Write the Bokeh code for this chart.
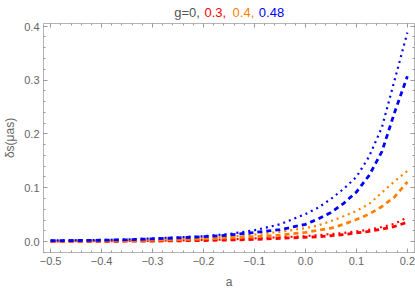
from bokeh.plotting import figure
from bokeh.models import Range1d, LinearAxis, CustomJSTickFormatter, ColumnDataSource
from bokeh.layouts import column
from bokeh.core.properties import value
from bokeh.embed import file_html
from bokeh.resources import INLINE

# ---- data ----
a_vals = [-0.5, -0.45, -0.4, -0.35, -0.3, -0.25, -0.2, -0.15, -0.1, -0.05,
          0.0, 0.025, 0.05, 0.075, 0.1, 0.125, 0.15, 0.175, 0.2]

red_dashed = [0.0003, 0.0004, 0.0005, 0.0007, 0.001, 0.0014, 0.002, 0.003, 0.004, 0.006,
              0.008, 0.009, 0.011, 0.013, 0.016, 0.019, 0.023, 0.028, 0.036]
red_dotted = [0.0005, 0.0006, 0.0008, 0.001, 0.0014, 0.002, 0.003, 0.004, 0.006, 0.008,
              0.010, 0.012, 0.014, 0.016, 0.019, 0.022, 0.027, 0.033, 0.045]
orange_dashed = [0.0008, 0.001, 0.0013, 0.0018, 0.0025, 0.0035, 0.005, 0.007, 0.009, 0.012,
                 0.017, 0.021, 0.025, 0.032, 0.041, 0.051, 0.065, 0.083, 0.111]
orange_dotted = [0.001, 0.0013, 0.0018, 0.0025, 0.0035, 0.005, 0.007, 0.009, 0.013, 0.018,
                 0.025, 0.030, 0.038, 0.047, 0.057, 0.070, 0.091, 0.112, 0.131]
blue_dashed = [0.0015, 0.002, 0.0025, 0.0035, 0.005, 0.007, 0.009, 0.012, 0.017, 0.022,
               0.032, 0.042, 0.054, 0.071, 0.092, 0.123, 0.167, 0.240, 0.307]
blue_dotted = [0.002, 0.0025, 0.003, 0.004, 0.006, 0.008, 0.010, 0.014, 0.021, 0.032,
               0.051, 0.063, 0.079, 0.098, 0.120, 0.158, 0.212, 0.300, 0.388]

title_parts = ["g=0,", "0.3,", "0.4,", "0.48"]
title_colors = ["#555555", "#ff0000", "#ff8000", "#0000ff"]
title_x = [-0.2574, -0.1981, -0.1430, -0.0915]

x_label = "a"
y_label = "δs(μas)"

FONT = "Liberation Sans"
FRAME = "#b4b4b4"
TICK = "#999999"
TXT = "#666666"

TITLE_H = 22
xr = Range1d(-0.514, 0.214)

# ---- title strip (shares the x range so the pieces line up with the frame) ----
tf = figure(width=415, height=TITLE_H, output_backend="svg", toolbar_location=None,
            x_range=xr, y_range=Range1d(0, TITLE_H),
            x_axis_location=None, y_axis_location=None,
            min_border_left=41, min_border_right=1, min_border_top=0, min_border_bottom=0)
tf.grid.visible = False
tf.outline_line_color = None
tsrc = ColumnDataSource(dict(x=title_x, y=[TITLE_H - 12] * len(title_x),
                             text=title_parts, color=title_colors))
tf.text(x="x", y="y", text="text", text_color="color", source=tsrc,
        text_font=value(FONT), text_font_size="13px",
        text_baseline="alphabetic", text_align="left")

# ---- main plot ----
p = figure(width=415, height=291 - TITLE_H, output_backend="svg", toolbar_location=None,
           x_range=xr, y_range=Range1d(-0.0203, 0.405),
           min_border_left=41, min_border_right=1, min_border_top=1, min_border_bottom=38)
p.grid.visible = False
p.outline_line_color = FRAME
p.background_fill_color = "white"
p.border_fill_color = "white"

num_fmt = CustomJSTickFormatter(
    code='return (tick < -1e-9 ? "\\u2212" : "") + Math.abs(tick).toFixed(1);')
blank_fmt = CustomJSTickFormatter(code='return "";')


def style_axis(ax, labels=True):
    ax.axis_line_color = FRAME
    ax.major_tick_line_color = TICK
    ax.minor_tick_line_color = TICK
    ax.major_tick_in = 4
    ax.major_tick_out = 0
    ax.minor_tick_in = 2
    ax.minor_tick_out = 0
    ax.ticker.num_minor_ticks = 5
    ax.major_label_text_font = FONT
    ax.major_label_text_color = TXT
    ax.major_label_text_font_size = "11px"
    ax.axis_label_text_font = FONT
    ax.axis_label_text_color = TXT
    ax.axis_label_text_font_style = "normal"
    if labels:
        ax.formatter = num_fmt
        ax.major_label_standoff = 4
    else:
        ax.formatter = blank_fmt
        ax.major_label_standoff = 0


style_axis(p.xaxis[0])
style_axis(p.yaxis[0])
p.xaxis[0].ticker.desired_num_ticks = 8
p.xaxis.axis_label = x_label
p.xaxis.axis_label_text_font_size = "12px"
p.xaxis.axis_label_standoff = 7
p.yaxis.axis_label = y_label
p.yaxis.axis_label_text_font_size = "12px"
p.yaxis.axis_label_standoff = 4

top_ax = LinearAxis()
right_ax = LinearAxis()
style_axis(top_ax, labels=False)
style_axis(right_ax, labels=False)
top_ax.ticker.desired_num_ticks = 8
p.add_layout(top_ax, "above")
p.add_layout(right_ax, "right")

series = [
    (red_dashed, "#ff0000", "dashed"),
    (red_dotted, "#ff0000", "dotted"),
    (orange_dashed, "#ff8000", "dashed"),
    (orange_dotted, "#ff8000", "dotted"),
    (blue_dashed, "#0000ff", "dashed"),
    (blue_dotted, "#0000ff", "dotted"),
]
for ys, col, kind in series:
    if kind == "dashed":
        p.line(a_vals, ys, line_color=col, line_width=2.8, line_dash="5 4")
    else:
        p.line(a_vals, ys, line_color=col, line_width=2.2, line_dash="2 4")

layout = column(tf, p, spacing=0)
open("out.html", "w").write(file_html(layout, INLINE))
